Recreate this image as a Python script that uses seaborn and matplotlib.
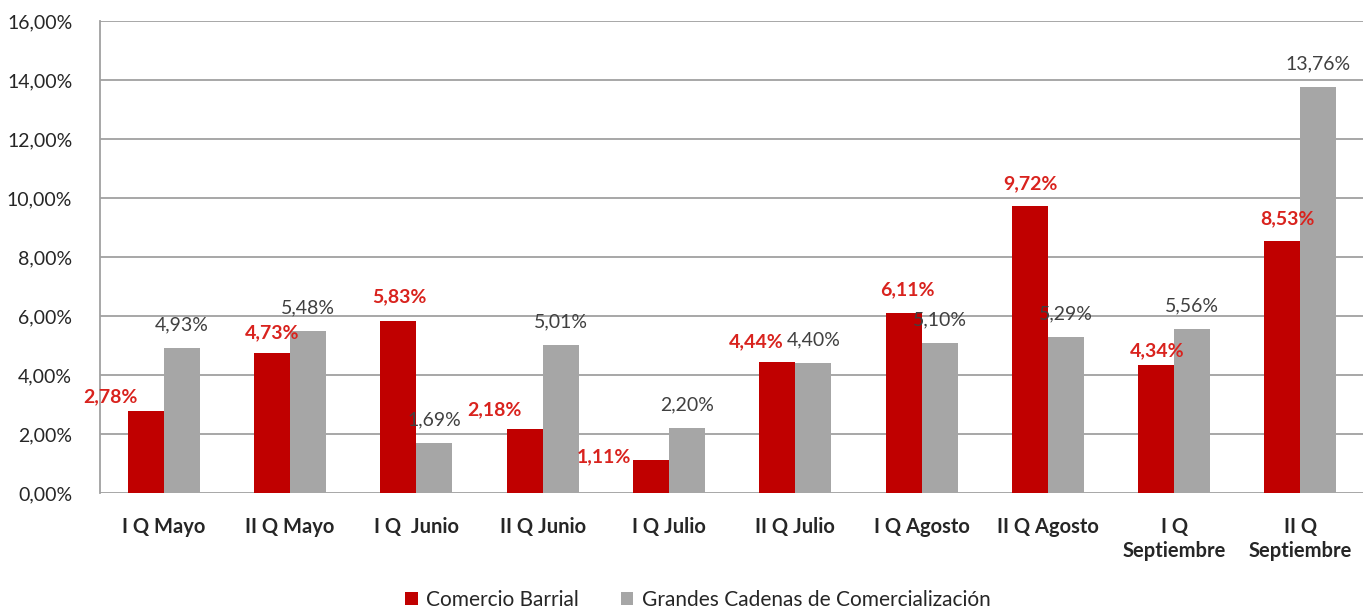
import pandas as pd
import matplotlib.pyplot as plt
import seaborn as sns
from matplotlib.ticker import FuncFormatter

periodos = ['I Q Mayo', 'II Q Mayo', 'I Q  Junio', 'II Q Junio', 'I Q Julio',
            'II Q Julio', 'I Q Agosto', 'II Q Agosto', 'I Q\nSeptiembre', 'II Q\nSeptiembre']
comercio_barrial = [2.78, 4.73, 5.83, 2.18, 1.11, 4.44, 6.11, 9.72, 4.34, 8.53]
grandes_cadenas = [4.93, 5.48, 1.69, 5.01, 2.20, 4.40, 5.10, 5.29, 5.56, 13.76]
series = ['Comercio Barrial', 'Grandes Cadenas de Comercialización']

df = pd.DataFrame({
    'periodo': periodos * 2,
    'serie': [series[0]] * len(periodos) + [series[1]] * len(periodos),
    'valor': comercio_barrial + grandes_cadenas,
})

sns.set_style('white')
plt.rcParams['font.family'] = ['Lato', 'DejaVu Sans']

fig = plt.figure(figsize=(13.63, 6.10), dpi=100)
ax = fig.add_axes([100 / 1363, 1 - 493 / 610, 1 - 100 / 1363, 472 / 610])

sns.barplot(data=df, x='periodo', y='valor', hue='serie', order=periodos,
            palette=['#C00000', '#A6A6A6'], width=0.57, gap=0,
            saturation=1, linewidth=0, ax=ax, legend=True)

ax.set_ylim(0, 16)
ax.set_xlim(-0.505, 9.495)
ax.set_yticks(range(0, 17, 2))
ax.yaxis.set_major_formatter(FuncFormatter(lambda v, p: f'{v:.2f}%'.replace('.', ',')))
ax.grid(axis='y', color='#A0A0A0', linewidth=1.3)
ax.set_axisbelow(True)
for s in ['top', 'right', 'bottom']:
    ax.spines[s].set_visible(False)
ax.spines['left'].set_color('#A0A0A0')
ax.spines['left'].set_linewidth(1.3)
ax.set_xlabel('')
ax.set_ylabel('')
ax.tick_params(axis='y', labelsize=14, colors='#262626', length=0, pad=20)
ax.tick_params(axis='x', length=0, pad=17)
ax.set_xticks(range(len(periodos)))
ax.set_xticklabels(periodos, fontsize=14.5, fontweight='bold', linespacing=1.3)

# label nudges (pixels) for the red series, where the original moved them
red_nudge = [(-35, 14), (0, 21), (1, 24), (-30, 19), (-47, 4),
             (-21, 20), (4, 23), (1, 23), (1, 14), (5, 23)]

red_bars, gray_bars = ax.containers[0], ax.containers[1]
for bar, v, (dx, dy) in zip(red_bars, comercio_barrial, red_nudge):
    ax.annotate(f'{v:.2f}%'.replace('.', ','), (bar.get_x() + bar.get_width() / 2, v),
                xytext=(dx, dy), textcoords='offset pixels', ha='center', va='center',
                color='#D9231E', fontsize=14, fontweight='bold')
for bar, v in zip(gray_bars, grandes_cadenas):
    ax.annotate(f'{v:.2f}%'.replace('.', ','), (bar.get_x() + bar.get_width() / 2, v),
                xytext=(0, 23), textcoords='offset pixels', ha='center', va='center',
                color='#404040', fontsize=14)

ax.get_legend().remove()
handles, labels = ax.get_legend_handles_labels()
fig.legend(handles, labels, loc='lower center', bbox_to_anchor=(0.512, -0.03), ncol=2,
           frameon=False, fontsize=15, handlelength=0.6, handleheight=0.6,
           handletextpad=0.4, columnspacing=2.0)

fig.savefig('out.png', dpi=100)
